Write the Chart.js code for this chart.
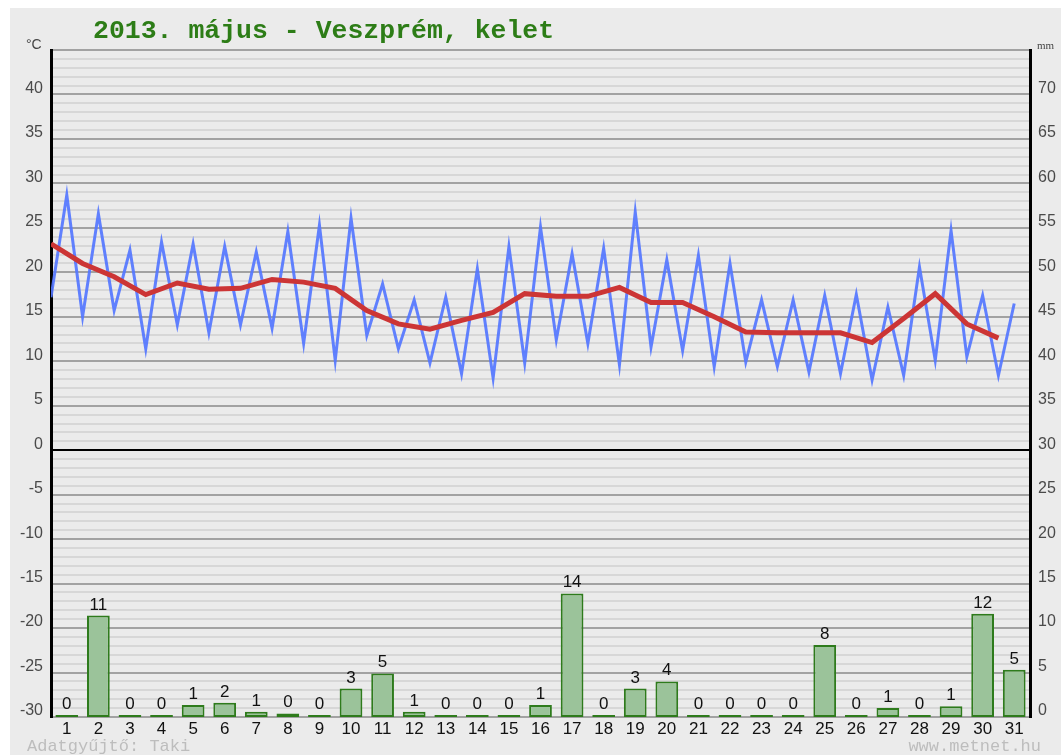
<!DOCTYPE html>
<html>
<head>
<meta charset="utf-8">
<title>2013. május - Veszprém, kelet</title>
<script src="https://cdn.jsdelivr.net/npm/chart.js@4.4.1/dist/chart.umd.min.js"></script>
<style>
  html, body { margin: 0; padding: 0; background: #fff; }
  #wrap { width: 1061px; height: 755px; position: relative; }
</style>
</head>
<body>
<div id="wrap"><canvas id="chart"></canvas></div>
<script>
// --- Data ---
const days = ['1', '2', '3', '4', '5', '6', '7', '8', '9', '10', '11', '12', '13', '14', '15', '16',
  '17', '18', '19', '20', '21', '22', '23', '24', '25', '26', '27', '28', '29', '30', '31']

// daily minimum / maximum temperature (°C)
const tMin = [17.2, 15.0, 15.7, 11.4, 14.1, 13.2, 14.1, 13.7, 12.0, 10.1, 12.9, 11.4, 9.8, 8.6, 8.1, 9.8,
  12.4, 12.0, 9.6, 11.6, 11.2, 9.4, 9.9, 9.4, 8.8, 8.6, 7.9, 8.4, 10.1, 10.5, 8.4]
const tMax = [28.7, 26.6, 22.5, 23.4, 23.2, 22.9, 22.3, 24.6, 25.3, 26.1, 18.7, 16.9, 17.2, 20.4, 22.9, 25.1,
  22.1, 22.7, 26.8, 21.4, 21.9, 21.0, 16.9, 16.9, 17.4, 17.5, 16.1, 20.6, 24.7, 17.4, 16.5]
// daily mean temperature (°C)
const tAvg = [23.2, 21.0, 19.5, 17.5, 18.8, 18.1, 18.2, 19.2, 18.9, 18.2, 15.7, 14.2, 13.6, 14.6, 15.5, 17.6,
  17.3, 17.3, 18.3, 16.6, 16.6, 15.0, 13.3, 13.2, 13.2, 13.2, 12.1, 14.8, 17.6, 14.2, 12.6]
// daily precipitation (mm)
const rain = [0, 11.4, 0, 0, 1.35, 1.6, 0.6, 0.4, 0, 3.2, 4.9, 0.6, 0, 0, 0, 1.35,
  13.9, 0, 3.2, 4.0, 0, 0, 0, 0, 8.1, 0, 1.0, 0, 1.2, 11.6, 5.3]

// --- Build line points: min at start of day, max at mid-day, mean at start of day ---
const minMaxPoints = []
tMin.forEach((v, i) => {
  minMaxPoints.push({ x: i, y: v })
  minMaxPoints.push({ x: i + 0.5, y: tMax[i] })
})
const avgPoints = tAvg.map((v, i) => ({ x: i, y: v }))

const SANS = '"Liberation Sans", Arial, sans-serif'
const MONO = '"Liberation Mono", "Courier New", monospace'

// background: white edge + gray panel
const bgPlugin = {
  id: 'bg',
  beforeDraw(chart) {
    const c = chart.ctx
    c.save()
    c.fillStyle = '#ffffff'
    c.fillRect(0, 0, chart.width, chart.height)
    c.fillStyle = '#ebebeb'
    c.fillRect(10, 8, chart.width - 10, chart.height - 8)
    c.restore()
  }
}

// rounded precipitation numbers above bars
const barLabels = {
  id: 'barLabels',
  afterDatasetsDraw(chart) {
    const meta = chart.getDatasetMeta(2)
    const c = chart.ctx
    c.save()
    c.font = '17px ' + SANS
    c.fillStyle = '#111'
    c.textAlign = 'center'
    c.textBaseline = 'alphabetic'
    meta.data.forEach((bar, i) => {
      c.fillText(String(Math.round(rain[i])), bar.x, bar.y - 6)
    })
    c.restore()
  }
}

// title, units, footer
const texts = {
  id: 'texts',
  afterDraw(chart) {
    const c = chart.ctx
    c.save()
    c.textBaseline = 'alphabetic'
    c.fillStyle = '#2d7d17'
    c.font = 'bold 26.5px ' + MONO
    c.textAlign = 'left'
    c.fillText('2013. május - Veszprém, kelet', 93, 38)

    c.fillStyle = '#444'
    c.font = '14px ' + SANS
    c.fillText('°C', 26, 49)
    c.font = '11px "Liberation Serif", serif'
    c.fillText('mm', 1037, 49)

    c.fillStyle = '#bdbdbd'
    c.font = '17px ' + MONO
    c.fillText('Adatgyűjtő: Taki', 27, 751)
    c.textAlign = 'right'
    c.fillText('www.metnet.hu', 1041, 751)
    c.restore()
  }
}

const gridColor = (ctx) => {
  const v = ctx.tick.value
  if (v === 0) return '#000000'
  if (v % 5 === 0) return '#a2a2a2'
  return '#d7d7d7'
}

const ctx = document.getElementById('chart').getContext('2d')
new Chart(ctx, {
  type: 'line',
  data: {
    labels: days,
    datasets: [
      {
        type: 'line',
        label: 'Középhőmérséklet',
        data: avgPoints,
        xAxisID: 'xl',
        yAxisID: 'y',
        borderColor: '#cc3535',
        borderWidth: 5,
        pointRadius: 0,
        tension: 0,
        order: 0
      },
      {
        type: 'line',
        label: 'Min/Max',
        data: minMaxPoints,
        xAxisID: 'xl',
        yAxisID: 'y',
        borderColor: 'rgba(84, 118, 255, 0.92)',
        borderWidth: 3,
        pointRadius: 0,
        tension: 0,
        order: 1
      },
      {
        type: 'bar',
        label: 'Csapadék',
        data: rain,
        xAxisID: 'x',
        yAxisID: 'y2',
        backgroundColor: '#9bc39a',
        borderColor: '#2e7b1c',
        borderWidth: 2,
        borderSkipped: false,
        minBarLength: 2,
        grouped: false,
        categoryPercentage: 1,
        barPercentage: 0.72,
        order: 2
      }
    ]
  },
  options: {
    responsive: true,
    maintainAspectRatio: false,
    animation: false,
    layout: { padding: { top: 50, left: 0, right: 0, bottom: 0 } },
    plugins: {
      legend: { display: false },
      tooltip: { enabled: false },
      title: { display: false }
    },
    scales: {
      x: {
        type: 'category',
        offset: true,
        grid: { display: false, drawTicks: false },
        border: { display: false },
        ticks: {
          color: '#111',
          font: { family: SANS, size: 17 },
          padding: 2,
          autoSkip: false,
          maxRotation: 0
        },
        afterFit: (s) => { s.height = 38 }
      },
      xl: { type: 'linear', display: false, offset: false, min: 0, max: 31 },
      y: {
        position: 'left',
        min: -30,
        max: 45,
        ticks: {
          stepSize: 1,
          autoSkip: false,
          callback: (v) => (v % 5 === 0 && v < 45) ? String(v) : '',
          color: '#4a4a4a',
          font: { family: SANS, size: 16 },
          padding: 8,
          labelOffset: -6
        },
        grid: { color: gridColor, lineWidth: 2, drawTicks: false },
        border: { color: '#000', width: 3 },
        afterFit: (s) => { s.width = 51 }
      },
      y2: {
        position: 'right',
        min: 0,
        max: 75,
        ticks: {
          stepSize: 1,
          autoSkip: false,
          callback: (v) => (v % 5 === 0 && v < 75) ? String(v) : '',
          color: '#4a4a4a',
          font: { family: SANS, size: 16 },
          padding: 8,
          labelOffset: -6
        },
        grid: { display: false, drawTicks: false },
        border: { color: '#000', width: 3 },
        afterFit: (s) => { s.width = 31 }
      }
    }
  },
  plugins: [bgPlugin, barLabels, texts]
})
</script>
</body>
</html>
